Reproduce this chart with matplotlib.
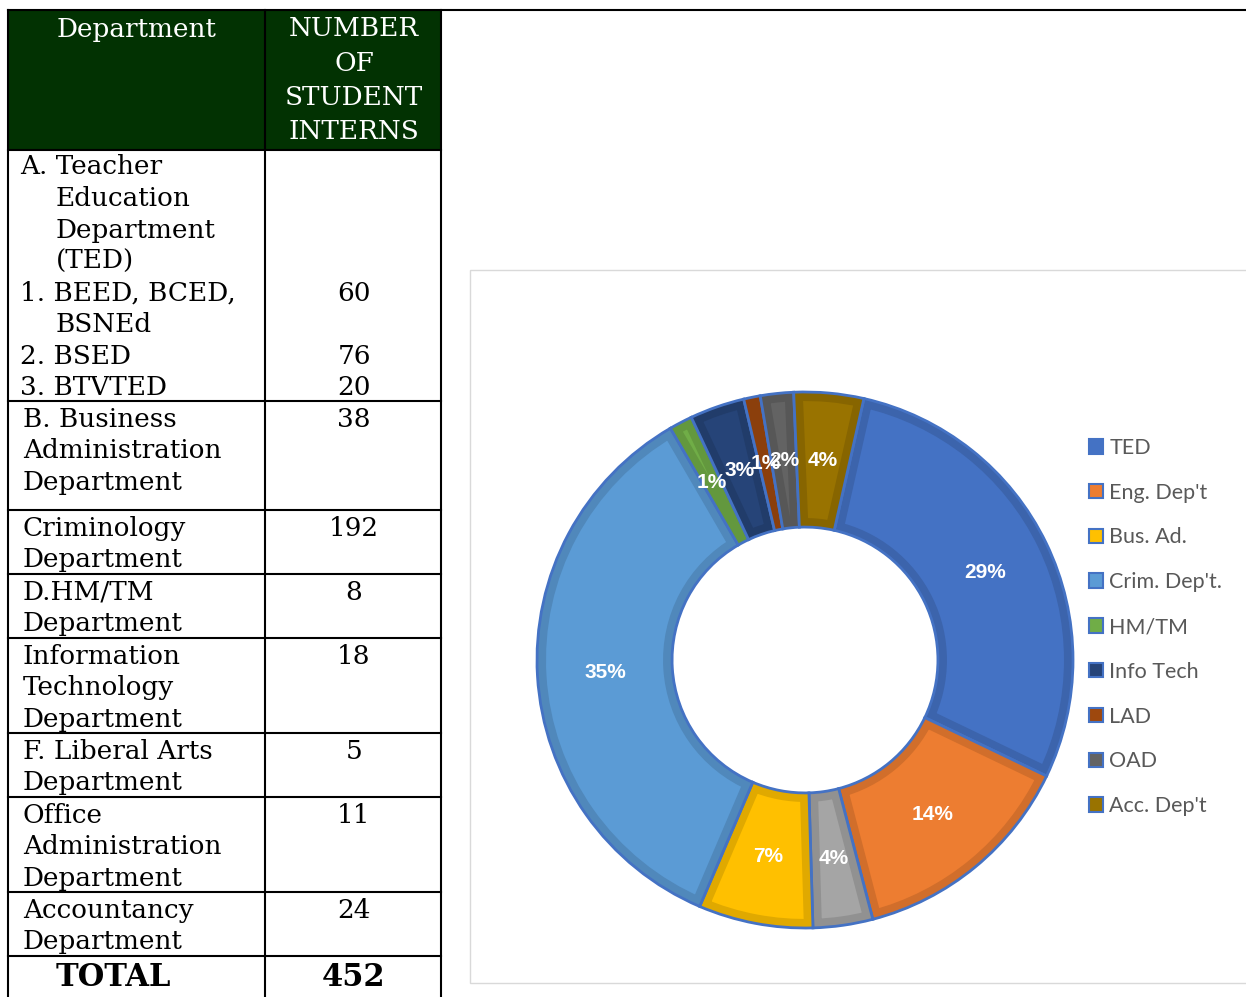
import matplotlib
matplotlib.use('Agg')
import matplotlib.pyplot as plt
from matplotlib.patches import Rectangle, Wedge, Patch
import matplotlib.colors as mcolors

# ---- table data ----
header_left = "Department"
header_right = ["NUMBER", "OF", "STUDENT", "INTERNS"]
ted_lines = ["A. Teacher", "Education", "Department", "(TED)",
             "1. BEED, BCED,", "BSNEd", "2. BSED", "3. BTVTED"]
ted_counts = ["", "", "", "", "60", "", "76", "20"]
other_depts = [["B. Business", "Administration", "Department"],
               ["Criminology", "Department"],
               ["D.HM/TM", "Department"],
               ["Information", "Technology", "Department"],
               ["F. Liberal Arts", "Department"],
               ["Office", "Administration", "Department"],
               ["Accountancy", "Department"]]
other_counts = [38, 192, 8, 18, 5, 11, 24]
total_count = 452

# ---- donut data (share of interns in %) ----
slice_labels = ["TED", "Eng. Dep't", "", "Bus. Ad.", "Crim. Dep't.", "HM/TM",
                "Info Tech", "LAD", "OAD", "Acc. Dep't"]
slice_pct = [28.6, 13.8, 3.6, 6.9, 35.2, 1.4, 3.3, 1.0, 2.0, 4.2]
slice_colors = ["#4472C4", "#ED7D31", "#A5A5A5", "#FFC000", "#5B9BD5",
                "#70AD47", "#264478", "#9E480E", "#636363", "#997300"]

W, H = 1246, 997
fig = plt.figure(figsize=(W / 100, H / 100), dpi=100)
bg = fig.add_axes([0, 0, 1, 1])
bg.set_xlim(0, W)
bg.set_ylim(H, 0)
bg.axis('off')

serif = "DejaVu Serif"
fs = 18.9

# table frame
bg.add_patch(Rectangle((8, 10), 433, 140, facecolor="#023202", edgecolor="none"))
row_edges = [150, 401, 510, 574, 638, 733, 797, 892, 956]
for y in row_edges:
    bg.plot([8, 441], [y, y], color="black", lw=1.5)
bg.plot([8, W], [10, 10], color="black", lw=1.5)
for x in [8, 265, 441]:
    bg.plot([x, x], [10, H], color="black", lw=1.5)

# header
bg.text(137, 29, header_left, family=serif, fontsize=fs, color="white", ha="center", va="center")
for i, s in enumerate(header_right):
    bg.text(354, 29 + i * 34.3, s, family=serif, fontsize=fs, color="white", ha="center", va="center")

step = 31.5
# TED row
for i, (s, c) in enumerate(zip(ted_lines, ted_counts)):
    y = 167 + i * step
    x = 20 if s[0] in "A123" else 56
    bg.text(x, y, s, family=serif, fontsize=fs, ha="left", va="center")
    if c:
        bg.text(354, y, c, family=serif, fontsize=fs, ha="center", va="center")

# other rows
for top, lines, n in zip(row_edges[1:-1], other_depts, other_counts):
    for i, s in enumerate(lines):
        bg.text(23, top + 18 + i * step, s, family=serif, fontsize=fs, ha="left", va="center")
    bg.text(354, top + 18, str(n), family=serif, fontsize=fs, ha="center", va="center")

bg.text(113, 977, "TOTAL", family=serif, fontsize=22, weight="bold", ha="center", va="center")
bg.text(354, 977, str(total_count), family=serif, fontsize=22, weight="bold", ha="center", va="center")

# chart area box
bg.add_patch(Rectangle((470, 270), 800, 713, facecolor="white", edgecolor="#D9D9D9", lw=1))

# ---- donut ----
cx, cy, R = 805, 660, 268
side = 2.5 * R
ax = fig.add_axes([(cx - side / 2) / W, (H - cy - side / 2) / H, side / W, side / H])
wedges, texts, autotexts = ax.pie(
    slice_pct, colors=slice_colors, startangle=77.3, counterclock=False,
    radius=1, autopct='%1.0f%%', pctdistance=0.748,
    wedgeprops=dict(width=0.504, edgecolor="none"),
    textprops=dict(color="white", fontsize=15, weight="bold", family="Liberation Sans"))
ax.set_xlim(-1.25, 1.25)
ax.set_ylim(-1.25, 1.25)
for w, col in zip(wedges, slice_colors):
    dark = [v * 0.88 for v in mcolors.to_rgb(col)]
    band = Wedge(w.center, w.r, w.theta1, w.theta2, width=w.width,
                 facecolor="none", edgecolor=dark, lw=13)
    ax.add_patch(band)
    band.set_clip_path(w)
    ax.add_patch(Wedge(w.center, w.r, w.theta1, w.theta2, width=w.width,
                       facecolor="none", edgecolor="#4472C4", lw=2))
for t in autotexts:
    t.set_zorder(10)

# legend (the grey slice has no entry)
handles = [Patch(facecolor=c, edgecolor="#4472C4", lw=1.5)
           for l, c in zip(slice_labels, slice_colors) if l]
labels = [l for l in slice_labels if l]
fig.legend(handles, labels, loc="center left", bbox_to_anchor=(1089 / W, (H - 627) / H),
           frameon=False, borderpad=0, borderaxespad=0,
           handlelength=0.65, handleheight=0.65, handletextpad=0.3, labelspacing=1.15,
           prop=dict(family="Lato", size=15.5), labelcolor="#595959")

fig.savefig("out.png", dpi=100)
